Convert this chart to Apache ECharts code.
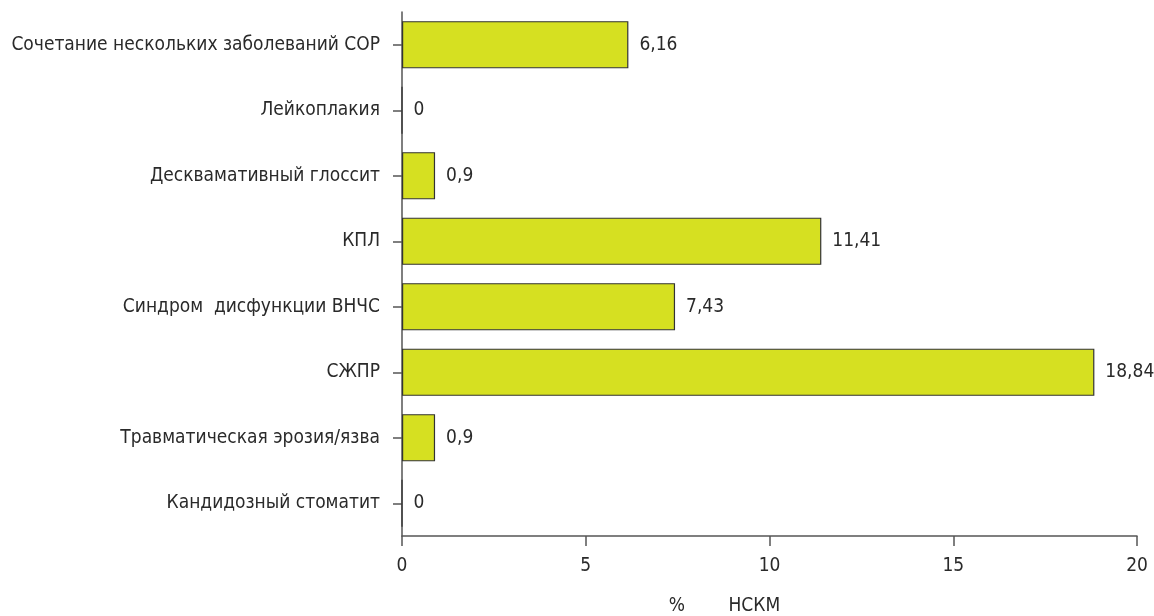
<!DOCTYPE html>
<html>
<head>
<meta charset="utf-8">
<script src="https://cdn.jsdelivr.net/npm/echarts@6/dist/echarts.min.js"></script>
<style>
  html, body { margin: 0; padding: 0; background: #ffffff; }
  #chart { width: 1154px; height: 616px; }
</style>
</head>
<body>
<div id="chart"></div>
<script>
// Categories listed top to bottom
const categories = [
  'Сочетание нескольких заболеваний СОР',
  'Лейкоплакия',
  'Десквамативный глоссит',
  'КПЛ',
  'Синдром  дисфункции ВНЧС',
  'СЖПР',
  'Травматическая эрозия/язва',
  'Кандидозный стоматит'
];
// Share of patients, %
const values = [6.16, 0, 0.9, 11.41, 7.43, 18.84, 0.9, 0];
const xTicks = [0, 5, 10, 15, 20];
const axisTitle = '%        НСКМ';

const FONT = '"Liberation Sans Narrow", "DejaVu Sans Condensed", "Liberation Sans", sans-serif';
const TEXT = '#2a2a2a';
const AXIS = '#555555';

const chart = echarts.init(document.getElementById('chart'), null, { renderer: 'canvas' });
chart.setOption({
  animation: false,
  backgroundColor: '#ffffff',
  grid: { left: 402, right: 17, top: 12, bottom: 80, containLabel: false, outerBoundsMode: 'none' },
  xAxis: {
    type: 'value',
    min: xTicks[0],
    max: xTicks[xTicks.length - 1],
    interval: 5,
    name: axisTitle,
    nameLocation: 'middle',
    nameGap: 61,
    nameTextStyle: { fontFamily: FONT, fontSize: 19, color: TEXT, padding: [0, 90, 0, 0] },
    axisLine: { show: true, lineStyle: { color: AXIS, width: 1.5 } },
    axisTick: { show: true, length: 10, lineStyle: { color: AXIS, width: 1.5 } },
    axisLabel: { fontFamily: FONT, fontSize: 19, color: TEXT, margin: 21,
      formatter: v => String(v) },
    splitLine: { show: false }
  },
  yAxis: {
    type: 'category',
    data: categories,
    inverse: true,
    axisLine: { show: true, lineStyle: { color: AXIS, width: 1.5 } },
    axisTick: { show: true, alignWithLabel: true, length: 9, lineStyle: { color: AXIS, width: 1.5 } },
    axisLabel: { fontFamily: FONT, fontSize: 19, color: TEXT, margin: 22 }
  },
  series: [{
    type: 'bar',
    data: values,
    barWidth: '72%',
    itemStyle: { color: '#d6e021', borderColor: '#333333', borderWidth: 1.2 },
    label: {
      show: true,
      position: 'right',
      distance: 11,
      fontFamily: FONT,
      fontSize: 19,
      color: TEXT,
      formatter: p => String(p.value).replace('.', ',')
    }
  }]
});
</script>
</body>
</html>
